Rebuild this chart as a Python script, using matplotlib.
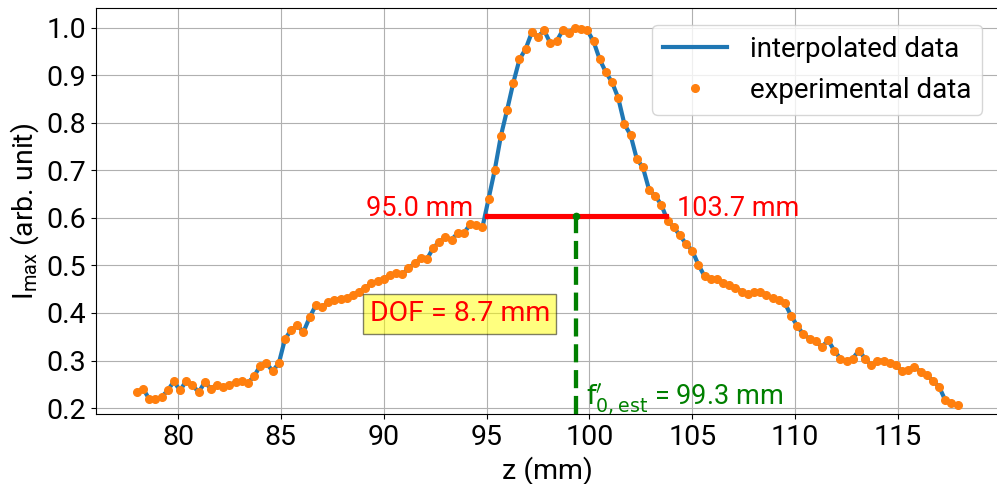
import numpy as np
import matplotlib.pyplot as plt

plt.rcParams['font.family'] = ['Roboto', 'DejaVu Sans']
plt.rcParams['mathtext.fontset'] = 'custom'
plt.rcParams['mathtext.rm'] = 'Roboto'
plt.rcParams['mathtext.it'] = 'Roboto:italic'
plt.rcParams['font.size'] = 19.5

# measured peak intensity along z (one sample every 0.3 mm, from 78.0 mm)
intensity = [
    0.233, 0.241, 0.219, 0.219, 0.223, 0.237, 0.256, 0.237, 0.257, 0.249,
    0.233, 0.254, 0.241, 0.249, 0.245, 0.249, 0.254, 0.257, 0.253, 0.267,
    0.289, 0.294, 0.278, 0.294, 0.345, 0.364, 0.374, 0.360, 0.391, 0.416,
    0.412, 0.423, 0.428, 0.430, 0.431, 0.438, 0.444, 0.453, 0.462, 0.467,
    0.472, 0.479, 0.483, 0.481, 0.494, 0.504, 0.515, 0.513, 0.536, 0.550,
    0.559, 0.554, 0.568, 0.568, 0.586, 0.584, 0.580, 0.640, 0.701, 0.773,
    0.827, 0.884, 0.933, 0.955, 0.990, 0.981, 0.994, 0.967, 0.971, 0.994,
    0.989, 1.000, 0.997, 0.994, 0.971, 0.933, 0.906, 0.885, 0.852, 0.797,
    0.774, 0.724, 0.706, 0.659, 0.646, 0.627, 0.594, 0.580, 0.563, 0.545,
    0.531, 0.501, 0.477, 0.471, 0.472, 0.462, 0.458, 0.453, 0.445, 0.439,
    0.443, 0.445, 0.437, 0.431, 0.428, 0.421, 0.394, 0.373, 0.355, 0.346,
    0.341, 0.328, 0.343, 0.321, 0.304, 0.299, 0.304, 0.321, 0.304, 0.290,
    0.300, 0.300, 0.295, 0.290, 0.277, 0.281, 0.287, 0.276, 0.270, 0.257,
    0.245, 0.216, 0.210, 0.206,
]
z = np.linspace(78.0, 117.9, len(intensity))

z_left = 95.0
z_right = 103.7
dof = 8.7
z_focus = 99.35
level = (max(intensity) + min(intensity)) / 2

fig = plt.figure(figsize=(9.97, 4.84), dpi=100)
ax = fig.add_axes([0.096, 0.1446, 0.9058, 0.8383])

ax.plot(z, intensity, color='#1f77b4', lw=3, label='interpolated data', zorder=2)
ax.plot(z, intensity, 'o', color='#ff7f0e', ms=5.5, label='experimental data', zorder=3)

ax.set_xlim(76.0, 119.9)
ax.set_ylim(0.1875, 1.0405)

# depth of focus markers
ax.plot([z_left, z_right], [level, level], '-o', color='red', lw=3.7, ms=3, zorder=4)
ax.plot([z_focus, z_focus], [0.1875, level], color='green', lw=3.1,
        linestyle=(0, (4.2, 1.8)), zorder=4)
ax.plot([z_focus], [level], 'o', color='green', ms=4.5, zorder=5)

ax.annotate(f'{z_left:.1f} mm', (z_left, level), xytext=(-9.5, 0),
            textcoords='offset points', ha='right', va='baseline', color='red')
ax.annotate(f'{z_right:.1f} mm', (z_right, level), xytext=(8.5, 0),
            textcoords='offset points', ha='left', va='baseline', color='red')
ax.text(93.7, 0.398, f'DOF = {dof} mm', ha='center', va='center', color='red',
        fontsize=20.5, bbox=dict(facecolor='yellow', alpha=0.5, pad=4.5))
ax.annotate(r"$\mathrm{f}^{\prime}_{\mathrm{0,est}}$ = " + f'{z_focus:.1f} mm',
            (z_focus, 0.206), xytext=(7.5, 0), textcoords='offset points',
            ha='left', va='baseline', color='green', math_fontfamily='dejavusans')

ax.set_xticks([80, 85, 90, 95, 100, 105, 110, 115])
ax.set_yticks(np.arange(0.2, 1.01, 0.1))
ax.tick_params(labelsize=20.5)
ax.grid(True)
ax.set_xlabel('z (mm)', fontsize=20.5)
ax.set_ylabel(r'$\mathrm{I}_{\mathrm{max}}$ (arb. unit)', fontsize=20.5)
ax.legend(loc='upper right', bbox_to_anchor=(0.9815, 0.959), borderaxespad=0,
          handlelength=2.3, fontsize=20)

fig.savefig('out.png', dpi=100)
